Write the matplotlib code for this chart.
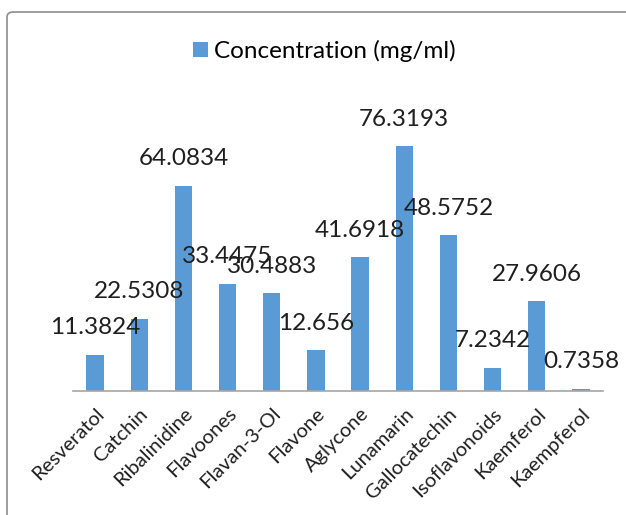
import matplotlib
matplotlib.use("Agg")
import matplotlib.pyplot as plt
from matplotlib.patches import FancyBboxPatch

compounds = ["Resveratol", "Catchin", "Ribalinidine", "Flavoones", "Flavan-3-Ol",
             "Flavone", "Aglycone", "Lunamarin", "Gallocatechin", "Isoflavonoids",
             "Kaemferol", "Kaempferol"]
concentration = [11.3824, 22.5308, 64.0834, 33.4475, 30.4883, 12.656,
                 41.6918, 76.3193, 48.5752, 7.2342, 27.9606, 0.7358]
value_labels = ["11.3824", "22.5308", "64.0834", "33.4475", "30.4883", "12.656",
                "41.6918", "76.3193", "48.5752", "7.2342", "27.9606", "0.7358"]

plt.rcParams["font.family"] = ["Lato", "DejaVu Sans"]

fig = plt.figure(figsize=(6.26, 5.15), dpi=100)

# chart frame, runs off the right and bottom edges
frame = FancyBboxPatch((7 / 626, -0.05), 1.0, 1 - 12 / 515 + 0.05,
                       boxstyle="round,pad=0,rounding_size=0.01",
                       transform=fig.transFigure, facecolor="white",
                       edgecolor="#8c8c8c", linewidth=1.2, zorder=-10)
fig.patches.append(frame)

ax = fig.add_axes([73 / 626, (515 - 391) / 515, 530 / 626, 0.56], zorder=1)
ax.set_facecolor("none")
x = range(len(compounds))
bars = ax.bar(x, concentration, width=0.39, color="#5B9BD5",
              label="Concentration (mg/ml)", zorder=2)

for xi, v, txt in zip(x, concentration, value_labels):
    ax.annotate(txt, (xi, v), xytext=(0, 12), textcoords="offset points",
                ha="center", va="bottom", fontsize=17.5, color="#1f1f1f")

ax.set_xlim(-0.5, len(compounds) - 0.5)
ax.set_ylim(0, 90)
ax.set_yticks([])
ax.set_xticks(list(x))
ax.set_xticklabels(compounds, rotation=45, ha="right", va="top",
                   rotation_mode="anchor", fontsize=14.5, color="#1f1f1f")
ax.tick_params(axis="x", length=0, pad=10)
for side in ["top", "right", "left"]:
    ax.spines[side].set_visible(False)
ax.spines["bottom"].set_color("#a6a6a6")
ax.spines["bottom"].set_linewidth(1.2)

fig.legend(handles=[bars], labels=["Concentration (mg/ml)"], loc="center",
           bbox_to_anchor=(0.518, 1 - 51 / 515), frameon=False, fontsize=17.5,
           handlelength=0.6, handleheight=0.6, handletextpad=0.25)

fig.savefig("out.png", dpi=100)
